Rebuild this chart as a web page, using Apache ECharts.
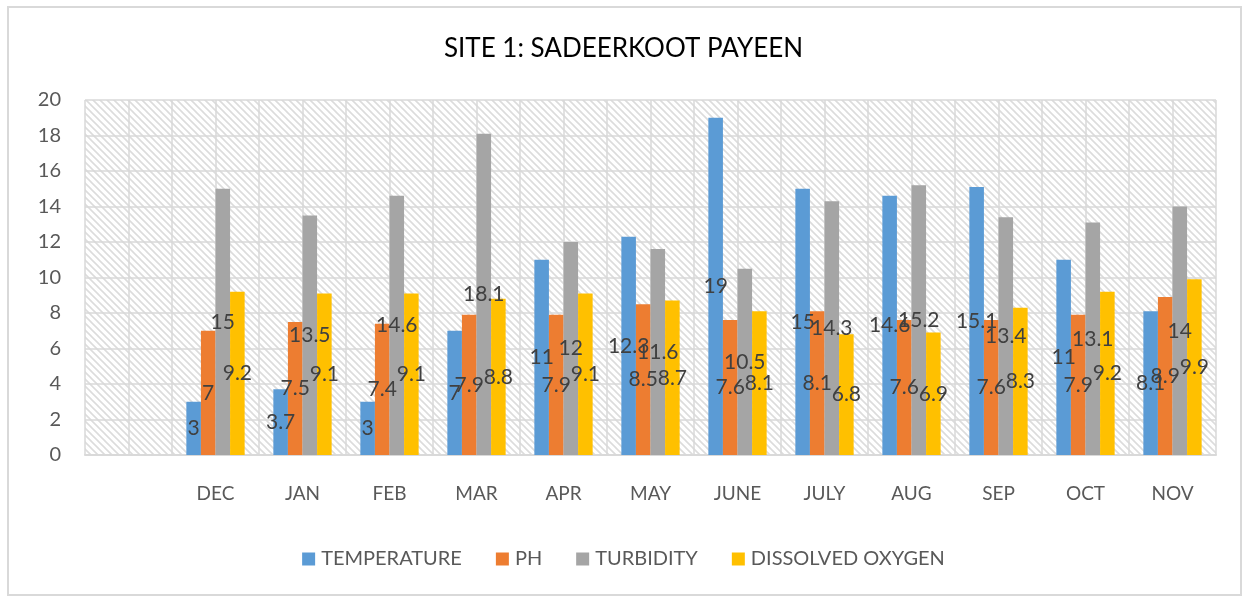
<!DOCTYPE html>
<html>
<head>
<meta charset="utf-8">
<script src="https://cdn.jsdelivr.net/npm/echarts@6/dist/echarts.min.js"></script>
<style>
html,body{margin:0;padding:0;background:#fff;}
#wrap{position:absolute;left:7px;top:6px;width:1235px;height:590px;border:2px solid #d9d9d9;box-sizing:border-box;}
#chart{position:absolute;left:0;top:0;width:1247px;height:599px;}
</style>
</head>
<body>
<div id="wrap"></div>
<div id="chart"></div>
<script>
const categories = ['', 'DEC', 'JAN', 'FEB', 'MAR', 'APR', 'MAY', 'JUNE', 'JULY', 'AUG', 'SEP', 'OCT', 'NOV'];
const temperature = [null, 3, 3.7, 3, 7, 11, 12.3, 19, 15, 14.6, 15.1, 11, 8.1];
const ph = [null, 7, 7.5, 7.4, 7.9, 7.9, 8.5, 7.6, 8.1, 7.6, 7.6, 7.9, 8.9];
const turbidity = [null, 15, 13.5, 14.6, 18.1, 12, 11.6, 10.5, 14.3, 15.2, 13.4, 13.1, 14];
const dissolvedOxygen = [null, 9.2, 9.1, 9.1, 8.8, 9.1, 8.7, 8.1, 6.8, 6.9, 8.3, 9.2, 9.9];
const yTicks = [0, 2, 4, 6, 8, 10, 12, 14, 16, 18, 20];

// hatch pattern
const pc = document.createElement('canvas');
pc.width = 7; pc.height = 7;
const ctx = pc.getContext('2d');
ctx.fillStyle = '#ffffff';
ctx.fillRect(0, 0, 7, 7);
ctx.strokeStyle = '#dcdcdc';
ctx.lineWidth = 1.6;
ctx.beginPath();
ctx.moveTo(-1, -1); ctx.lineTo(8, 8);
ctx.moveTo(-8, -1); ctx.lineTo(1, 8);
ctx.moveTo(6, -1); ctx.lineTo(15, 8);
ctx.stroke();

const chart = echarts.init(document.getElementById('chart'), null, {renderer: 'canvas'});
const FONT = 'Lato';
const labelCfg = {
  show: true,
  position: 'inside',
  color: '#404040',
  fontSize: 21,
  fontFamily: FONT,
  formatter: p => (p.value == null ? '' : String(p.value))
};
function mk(name, data, color) {
  return {
    name: name, type: 'bar', data: data, barGap: '0%', barCategoryGap: '33%',
    itemStyle: {color: color}, label: labelCfg, xAxisIndex: 0, yAxisIndex: 0
  };
}
chart.setOption({
  animation: false,
  title: {
    text: 'SITE 1: SADEERKOOT PAYEEN', left: 'center', top: 31,
    textStyle: {fontFamily: FONT, fontSize: 26, fontWeight: 'normal', color: '#000'}
  },
  legend: {
    bottom: 25, left: 'center', itemWidth: 13, itemHeight: 13, itemGap: 34,
    icon: 'rect',
    textStyle: {fontFamily: FONT, fontSize: 20, color: '#595959', padding: [0, 0, 0, 1]},
    data: ['TEMPERATURE', 'PH', 'TURBIDITY', 'DISSOLVED OXYGEN']
  },
  grid: {
    left: 85, right: 31, top: 100, bottom: 144, containLabel: false,
    show: true, borderWidth: 0,
    backgroundColor: {image: pc, repeat: 'repeat'}
  },
  xAxis: [{
    type: 'category', data: categories,
    axisLine: {show: true, lineStyle: {color: '#d9d9d9', width: 2}},
    axisTick: {show: false},
    axisLabel: {color: '#595959', fontSize: 19, fontFamily: FONT, margin: 29},
    splitLine: {show: false}
  }, {
    type: 'value', min: 0, max: categories.length * 2, interval: 1,
    position: 'bottom',
    axisLine: {show: false}, axisTick: {show: false}, axisLabel: {show: false},
    splitLine: {show: true, lineStyle: {color: '#d9d9d9', width: 1.5}}
  }],
  yAxis: {
    type: 'value', min: yTicks[0], max: yTicks[yTicks.length - 1], interval: 2,
    axisLine: {show: false}, axisTick: {show: false},
    axisLabel: {color: '#595959', fontSize: 20, fontFamily: FONT, margin: 24},
    splitLine: {show: true, lineStyle: {color: '#d9d9d9', width: 1.5}}
  },
  series: [
    mk('TEMPERATURE', temperature, '#5b9bd5'),
    mk('PH', ph, '#ed7d31'),
    mk('TURBIDITY', turbidity, '#a5a5a5'),
    mk('DISSOLVED OXYGEN', dissolvedOxygen, '#ffc000')
  ]
});
</script>
</body>
</html>
